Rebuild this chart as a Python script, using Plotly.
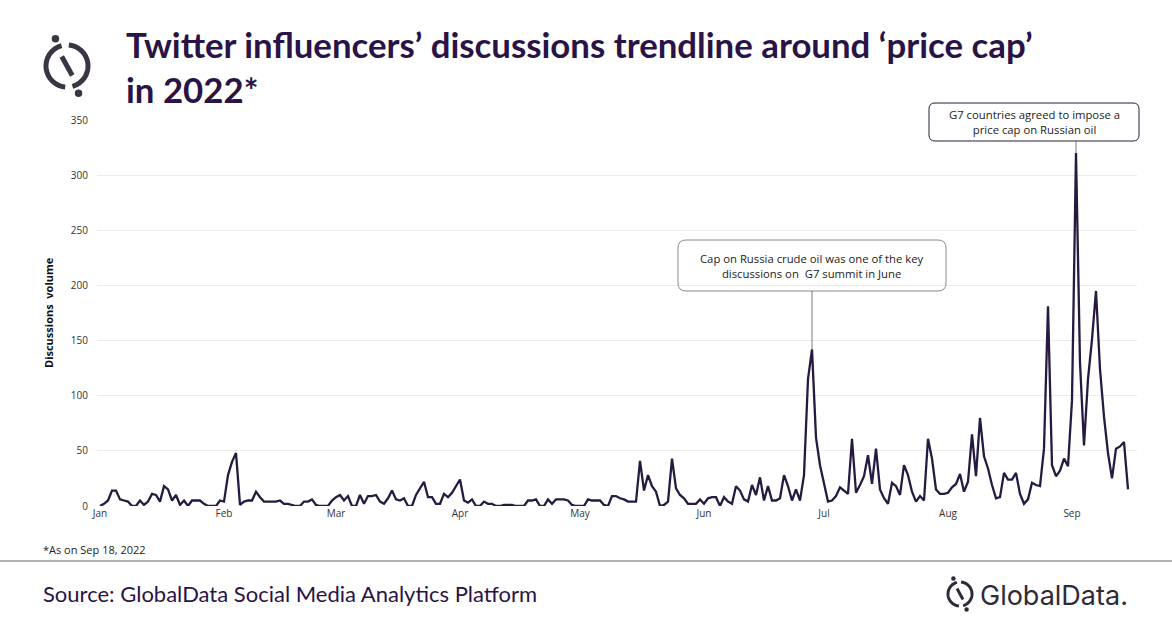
import numpy as np
import pandas as pd
import plotly.graph_objects as go

# daily discussion volume, 1 Jan 2022 onwards
start = "2022-01-01"
volume = [
    0, 2, 5, 14, 14, 6, 5, 4, 0, 0,
    5, 1, 4, 11, 10, 4, 18, 15, 5, 10,
    1, 5, 0, 5, 5, 5, 2, 0, 0, 0,
    5, 4, 28, 40, 48, 1, 4, 5, 5, 13,
    8, 4, 4, 4, 4, 5, 2, 2, 1, 0,
    0, 4, 4, 6, 1, 0, 0, 0, 5, 8,
    10, 5, 9, 0, 0, 10, 2, 9, 9, 10,
    4, 2, 7, 14, 6, 5, 7, 0, 0, 10,
    16, 22, 8, 8, 2, 2, 11, 8, 12, 18,
    24, 5, 3, 6, 0, 0, 4, 2, 2, 0,
    0, 1, 1, 1, 0, 0, 0, 5, 5, 6,
    0, 0, 6, 2, 6, 6, 6, 5, 1, 0,
    0, 0, 6, 5, 5, 5, 1, 0, 9, 9,
    7, 6, 4, 4, 4, 41, 14, 28, 18, 13,
    0, 1, 4, 43, 16, 10, 7, 2, 2, 2,
    6, 2, 7, 8, 8, 0, 8, 4, 2, 18,
    14, 6, 4, 19, 10, 26, 5, 18, 5, 5,
    7, 28, 18, 5, 15, 5, 28, 115, 142, 62,
    37, 20, 4, 5, 9, 17, 14, 11, 61, 12,
    19, 27, 46, 20, 52, 15, 7, 2, 21, 18,
    10, 37, 28, 13, 4, 9, 5, 61, 43, 15,
    11, 11, 12, 17, 20, 29, 13, 22, 65, 27,
    80, 45, 34, 19, 7, 8, 30, 24, 24, 30,
    11, 2, 6, 21, 19, 18, 52, 181, 37, 27,
    32, 43, 36, 96, 320, 130, 55, 115, 151, 195,
    124, 81, 48, 25, 52, 54, 58, 15,
]
dates = pd.date_range(start, periods=len(volume), freq="D")

y_ticks = [0, 50, 100, 150, 200, 250, 300, 350]

title_text = "Twitter influencers’ discussions trendline around ‘price cap’<br>in 2022*"
note_jun = "Cap on Russia crude oil was one of the key<br>discussions on  G7 summit in June"
note_sep = "G7 countries agreed to impose a<br>price cap on Russian oil"
jun_peak_date = pd.Timestamp("2022-06-28")
sep_peak_date = pd.Timestamp("2022-09-02")

W, H = 1172, 628
L, R, T, B = 97, 35, 120, 122
PW, PH = W - L - R, H - T - B
PURPLE = "#2a1346"
LINE = "#261a41"


def px(x):
    return (x - L) / PW


def py(y):
    return (H - B - y) / PH


def ydata(y):
    return (H - B - y) / PH * 350


def rounded_box(x0, y0, x1, y1, r=8):
    # rounded rectangle in paper coords from pixel box
    rx, ry = r / PW, r / PH
    a, b, c, d = px(x0), py(y1), px(x1), py(y0)
    return (f"M {a+rx},{b} L {c-rx},{b} Q {c},{b} {c},{b+ry} "
            f"L {c},{d-ry} Q {c},{d} {c-rx},{d} L {a+rx},{d} "
            f"Q {a},{d} {a},{d-ry} L {a},{b+ry} Q {a},{b} {a+rx},{b} Z")


def arc_path(cx, cy, r, a0, a1, n=40):
    t = np.radians(np.linspace(a0, a1, n))
    pts = [(px(cx + r * np.cos(v)), py(cy - r * np.sin(v))) for v in t]
    return "M " + " L ".join(f"{x},{y}" for x, y in pts)


def logo(cx, cy, r, w, color):
    s = []
    s.append(dict(type="path", xref="paper", yref="paper", path=arc_path(cx, cy, r, 105, 265),
                  line=dict(color=color, width=w)))
    s.append(dict(type="path", xref="paper", yref="paper", path=arc_path(cx, cy, r, -75, 85),
                  line=dict(color=color, width=w)))
    s.append(dict(type="line", xref="paper", yref="paper",
                  x0=px(cx - 0.25 * r), y0=py(cy - 0.45 * r), x1=px(cx + 0.25 * r), y1=py(cy + 0.45 * r),
                  line=dict(color=color, width=w)))
    d = w * 0.75
    for (dx, dy) in [(-0.55 * r, -1.3 * r), (0.55 * r, 1.3 * r)]:
        s.append(dict(type="circle", xref="paper", yref="paper",
                      x0=px(cx + dx - d), x1=px(cx + dx + d), y0=py(cy + dy + d), y1=py(cy + dy - d),
                      fillcolor=color, line=dict(width=0)))
    return s


fig = go.Figure()
fig.add_trace(go.Scatter(x=dates, y=volume, mode="lines",
                         line=dict(color=LINE, width=2.3), hoverinfo="x+y"))

jun_val = volume[list(dates).index(jun_peak_date)]
sep_val = volume[list(dates).index(sep_peak_date)]

shapes = [
    dict(type="path", xref="paper", yref="paper", path=rounded_box(678, 240, 946, 291),
         line=dict(color="#8a8a8a", width=1)),
    dict(type="path", xref="paper", yref="paper", path=rounded_box(929, 103, 1139, 141, 6),
         line=dict(color="#241c3c", width=1)),
    dict(type="line", xref="x", yref="y", x0=jun_peak_date, x1=jun_peak_date,
         y0=ydata(291), y1=jun_val, line=dict(color="#7a7a7a", width=1)),
    dict(type="line", xref="x", yref="y", x0=sep_peak_date, x1=sep_peak_date,
         y0=ydata(141), y1=sep_val, line=dict(color="#7a7a7a", width=1)),
    dict(type="line", xref="paper", yref="paper", x0=px(0), x1=px(W), y0=py(561), y1=py(561),
         line=dict(color="#9a9a9a", width=1.5)),
]
shapes += logo(67, 66, 21, 5, "#3a3443")
shapes += logo(960, 594, 12, 3, "#2e2a3a")

annotations = [
    dict(text=f"<b>{title_text}</b>", xref="paper", yref="paper", x=px(124), y=py(67),
         xanchor="left", yanchor="middle", align="left", showarrow=False,
         font=dict(family="Lato", size=34.8, color=PURPLE)),
    dict(text="<b>Discussions  volume</b>", xref="paper", yref="paper", x=px(48), y=py(313),
         xanchor="center", yanchor="middle", textangle=-90, showarrow=False,
         font=dict(family="Open Sans", size=11, color="#111")),
    dict(text=note_jun, xref="paper", yref="paper", x=px(812), y=py(265.5), showarrow=False,
         xanchor="center", yanchor="middle",
         font=dict(family="Open Sans", size=11.3, color="#222")),
    dict(text=note_sep, xref="paper", yref="paper", x=px(1034), y=py(122), showarrow=False,
         xanchor="center", yanchor="middle",
         font=dict(family="Open Sans", size=11.3, color="#222")),
    dict(text="*As on Sep 18, 2022", xref="paper", yref="paper", x=px(41), y=py(549),
         xanchor="left", yanchor="middle", showarrow=False,
         font=dict(family="Open Sans", size=11, color="#222")),
    dict(text="Source: GlobalData Social Media Analytics Platform", xref="paper", yref="paper",
         x=px(41), y=py(593), xanchor="left", yanchor="middle", showarrow=False,
         font=dict(family="Lato", size=22, color=PURPLE)),
    dict(text="GlobalData.", xref="paper", yref="paper", x=px(978), y=py(595),
         xanchor="left", yanchor="middle", showarrow=False,
         font=dict(family="Inter", size=27, color="#2e2a3a")),
]

fig.update_layout(
    width=W, height=H,
    margin=dict(l=L, r=R, t=T, b=B),
    paper_bgcolor="white", plot_bgcolor="white",
    showlegend=False,
    shapes=shapes,
    annotations=annotations,
    xaxis=dict(range=[pd.Timestamp(start) - pd.Timedelta(hours=18),
                      pd.Timestamp(start) + pd.Timedelta(days=259.25)],
               tickformat="%b", dtick="M1", tick0=start, showgrid=False,
               showline=False, zeroline=False, ticks="",
               tickfont=dict(family="Open Sans", size=10, color="#333")),
    yaxis=dict(range=[0, 350], tickvals=y_ticks, showgrid=True, gridcolor="#ececec",
               gridwidth=1, zeroline=False, showline=False, ticks="", ticklabelstandoff=8,
               tickfont=dict(family="Open Sans", size=10, color="#333")),
)

# drop the default page margin so the figure sits at the window's top-left corner
fig.write_html("out.html", config={"displayModeBar": False},
               post_script="document.body.style.margin='0';")
